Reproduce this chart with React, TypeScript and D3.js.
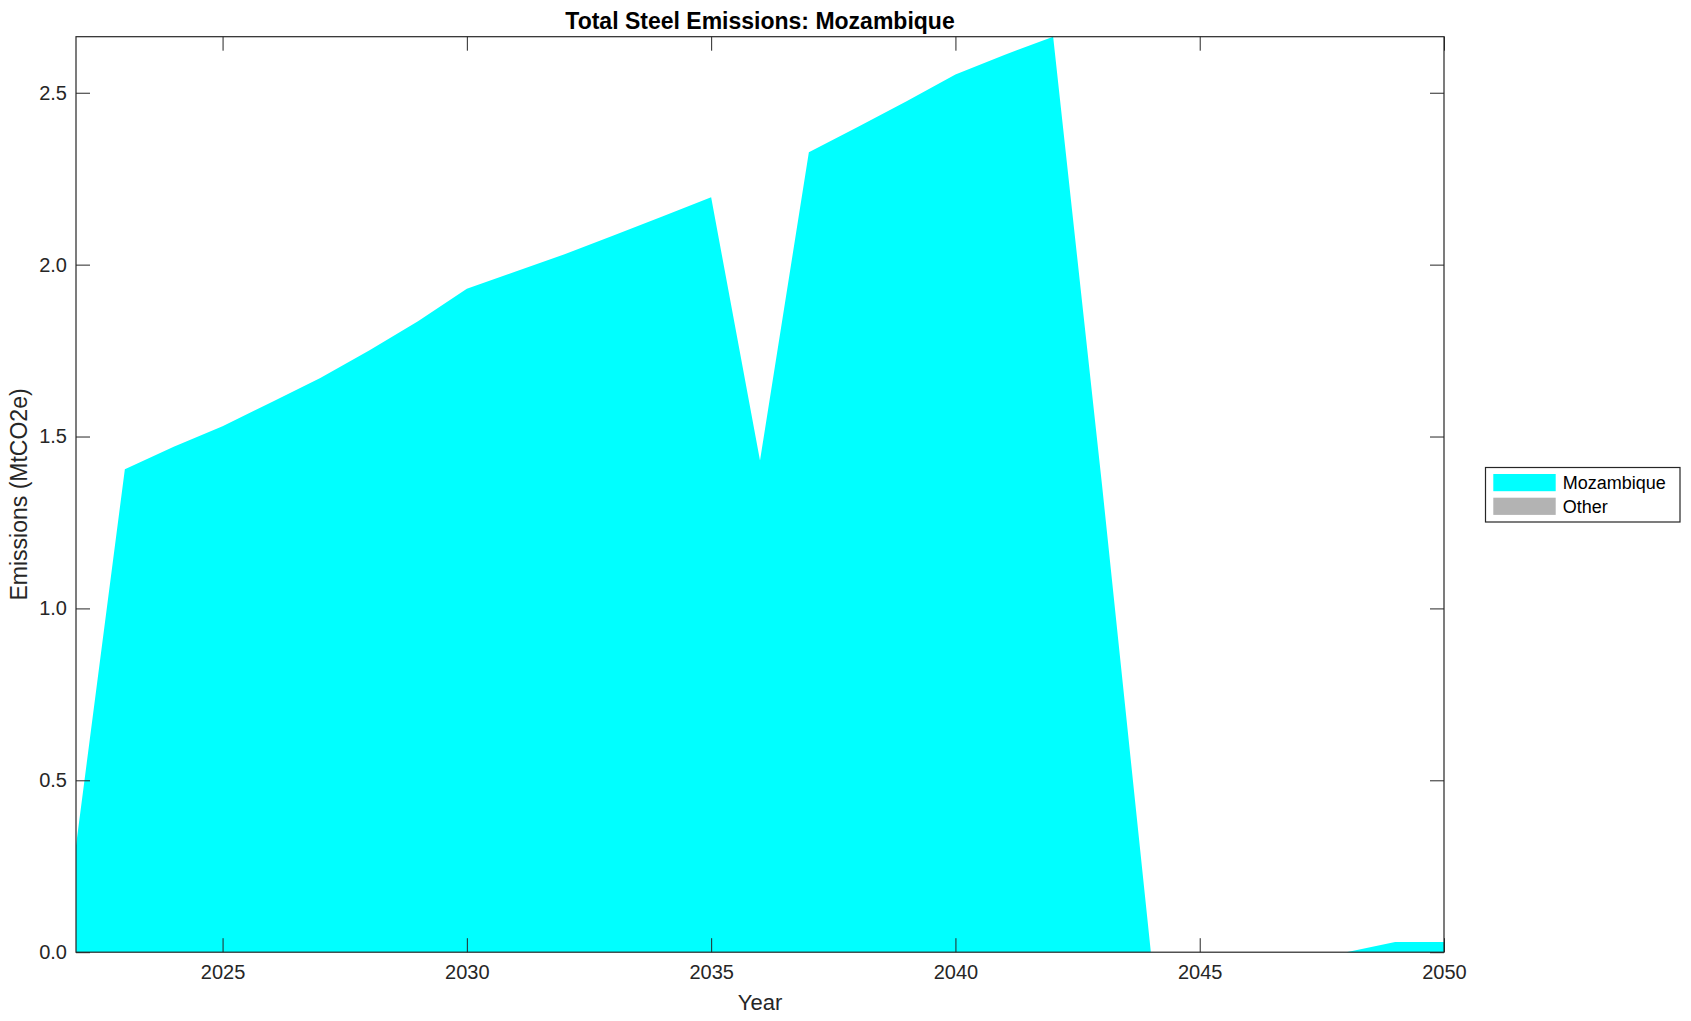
import * as d3 from 'd3';
import { useEffect, useRef } from 'react';

// data
const years = d3.range(2022, 2051);
const mozambique = [
  0.31, 1.405, 1.47, 1.53, 1.6, 1.67, 1.75, 1.835, 1.93, 1.98,
  2.03, 2.085, 2.14, 2.196, 1.43, 2.327, 2.4, 2.475, 2.553, 2.61,
  2.663, 1.36, 0, 0, 0, 0, 0, 0.03, 0.03,
];
const other = years.map(() => 0);
const seriesNames = ['Mozambique', 'Other'];
const seriesColors = ['#00ffff', '#b3b3b3'];
const xTicks = [2025, 2030, 2035, 2040, 2045, 2050];
const yTicks = [0, 0.5, 1, 1.5, 2, 2.5];

const App = () => {
  const width = 1691;
  const height = 1021;
  const margin = { top: 36.7, right: 247, bottom: 68.8, left: 76 };
  const svgRef = useRef<SVGSVGElement>(null);

  useEffect(() => {
    const svg = d3.select(svgRef.current);
    svg.selectAll('*').remove();

    const x0 = margin.left;
    const x1 = width - margin.right;
    const y0 = height - margin.bottom;
    const y1 = margin.top;

    const rows = years.map((yr, i) => ({ year: yr, Mozambique: mozambique[i], Other: other[i] }));
    const stacked = d3.stack<any>().keys(seriesNames)(rows);
    const yMax = d3.max(stacked[stacked.length - 1], (d) => d[1]) as number;

    const xScale = d3.scaleLinear().domain([2022, 2050]).range([x0, x1]);
    const yScale = d3.scaleLinear().domain([0, yMax]).range([y0, y1]);

    const area = d3
      .area<any>()
      .x((d) => xScale(d.data.year))
      .y0((d) => yScale(d[0]))
      .y1((d) => yScale(d[1]));

    svg
      .append('g')
      .selectAll('path')
      .data(stacked)
      .join('path')
      .attr('d', (d) => area(d))
      .attr('fill', (d, i) => seriesColors[i])
      .attr('stroke', 'none');

    const axisColor = '#262626';
    const font = '"Liberation Sans", Arial, Helvetica, sans-serif';
    const tickLen = 14;

    const xAxis = d3.axisBottom(xScale).tickValues(xTicks).tickFormat(d3.format('d')).tickSizeInner(-tickLen).tickSizeOuter(0).tickPadding(13);
    const xAxisTop = d3.axisTop(xScale).tickValues(xTicks).tickFormat(() => '').tickSizeInner(-tickLen).tickSizeOuter(0);
    const yAxis = d3.axisLeft(yScale).tickValues(yTicks).tickFormat(d3.format('.1f')).tickSizeInner(-tickLen).tickSizeOuter(0).tickPadding(9);
    const yAxisRight = d3.axisRight(yScale).tickValues(yTicks).tickFormat(() => '').tickSizeInner(-tickLen).tickSizeOuter(0);

    const styleAxis = (g: any) => {
      g.select('.domain').remove();
      g.selectAll('line').attr('stroke', axisColor).attr('stroke-width', 1);
      g.selectAll('text').attr('fill', axisColor).attr('font-family', font).attr('font-size', 20);
    };

    svg.append('g').attr('transform', `translate(0,${y0})`).call(xAxis).call(styleAxis);
    svg.append('g').attr('transform', `translate(0,${y1})`).call(xAxisTop).call(styleAxis);
    svg.append('g').attr('transform', `translate(${x0},0)`).call(yAxis).call(styleAxis);
    svg.append('g').attr('transform', `translate(${x1},0)`).call(yAxisRight).call(styleAxis);

    // box frame
    svg
      .append('rect')
      .attr('x', x0)
      .attr('y', y1)
      .attr('width', x1 - x0)
      .attr('height', y0 - y1)
      .attr('fill', 'none')
      .attr('stroke', axisColor)
      .attr('stroke-width', 1.2);

    svg
      .append('text')
      .attr('x', (x0 + x1) / 2)
      .attr('y', 28.5)
      .attr('text-anchor', 'middle')
      .attr('font-family', font)
      .attr('font-weight', 'bold')
      .attr('font-size', 23)
      .attr('fill', '#000')
      .text('Total Steel Emissions: Mozambique');

    svg
      .append('text')
      .attr('x', (x0 + x1) / 2)
      .attr('y', 1010)
      .attr('text-anchor', 'middle')
      .attr('font-family', font)
      .attr('font-size', 22)
      .attr('fill', axisColor)
      .text('Year');

    svg
      .append('text')
      .attr('transform', `translate(27,${(y0 + y1) / 2}) rotate(-90)`)
      .attr('text-anchor', 'middle')
      .attr('font-family', font)
      .attr('font-size', 23)
      .attr('fill', axisColor)
      .text('Emissions (MtCO2e)');

    // legend
    const lg = svg.append('g').attr('transform', 'translate(1485.5,467.5)');
    lg.append('rect')
      .attr('width', 194.5)
      .attr('height', 54.5)
      .attr('fill', '#fff')
      .attr('stroke', axisColor)
      .attr('stroke-width', 1.2);
    seriesNames.forEach((name, i) => {
      const row = lg.append('g').attr('transform', `translate(0,${6.5 + i * 23.7})`);
      row.append('rect')
        .attr('x', 7.8)
        .attr('width', 62.4)
        .attr('height', 17.2)
        .attr('fill', seriesColors[i]);
      row.append('text')
        .attr('x', 77.2)
        .attr('y', 15.3)
        .attr('font-family', font)
        .attr('font-size', 18)
        .attr('fill', '#000')
        .text(name);
    });
  }, []);

  return (
    <div style={{ position: 'absolute', left: 0, top: 0 }}>
      <svg ref={svgRef} width={width} height={height} viewBox={`0 0 ${width} ${height}`} style={{ display: 'block', background: '#fff' }} />
    </div>
  );
};

export default App;
